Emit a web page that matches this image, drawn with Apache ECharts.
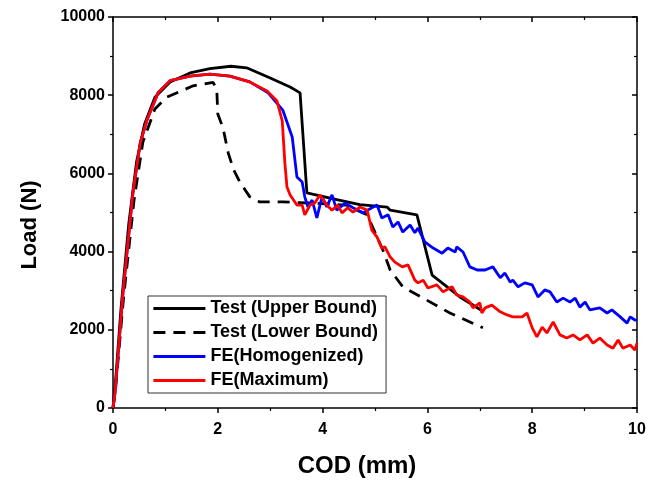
<!DOCTYPE html>
<html>
<head>
<meta charset="utf-8" />
<title>Load - COD</title>
<style>
  html, body { margin: 0; padding: 0; background: #fff; }
  #chart { width: 658px; height: 481px; }
</style>
</head>
<body>
<div id="chart"></div>
<script src="https://cdn.jsdelivr.net/npm/echarts@6/dist/echarts.min.js"></script>
<script>
// [COD (mm), Load (N)]
var testUpper = [[0,0],[0.05,700],[0.15,2500],[0.3,4700],[0.45,6300],[0.6,7250],[0.8,7950],[1.09,8340],[1.47,8570],[1.85,8680],[2.25,8740],[2.55,8700],[3.0,8440],[3.38,8210],[3.57,8060],[3.70,5500],[4.27,5330],[4.71,5200],[5.23,5140],[5.29,5060],[5.80,4940],[6.09,3400],[6.62,2840],[7.03,2500]];
var testLower = [[0,0],[0.05,500],[0.2,2800],[0.4,5300],[0.57,6800],[0.8,7650],[1.03,7950],[1.53,8240],[1.91,8330],[1.98,8150],[2.0,7520],[2.1,7160],[2.2,6520],[2.3,6100],[2.42,5780],[2.61,5400],[2.8,5270],[3.24,5270],[3.8,5240],[4.45,5190],[4.85,4940],[5.15,4040],[5.29,3530],[5.53,3100],[5.92,2810],[6.43,2430],[7.06,2050]];
var feHomogenized = [[0,0],[0.04,400],[0.19,2940],[0.38,5500],[0.52,6780],[0.65,7370],[0.86,8060],[1.09,8370],[1.47,8490],[1.85,8540],[2.23,8490],[2.61,8340],[2.96,8060],[3.24,7620],[3.42,6930],[3.51,5910],[3.61,5780],[3.66,5400],[3.72,5140],[3.80,5320],[3.89,4860],[3.99,5400],[4.08,5140],[4.18,5450],[4.27,5060],[4.43,5240],[4.58,5120],[4.77,4990],[4.94,5120],[5.04,5190],[5.13,4860],[5.25,4940],[5.34,4630],[5.44,4760],[5.53,4500],[5.67,4680],[5.76,4480],[5.82,4600],[5.95,4250],[6.11,4090],[6.28,3960],[6.39,4090],[6.53,3990],[6.56,4120],[6.68,3990],[6.81,3610],[6.95,3530],[7.10,3530],[7.25,3610],[7.39,3330],[7.48,3450],[7.58,3220],[7.63,3270],[7.73,3100],[7.86,3200],[8.0,3150],[8.11,2840],[8.24,3020],[8.34,2970],[8.47,2710],[8.59,2810],[8.72,2710],[8.82,2810],[8.91,2580],[9.01,2710],[9.10,2510],[9.29,2560],[9.43,2430],[9.52,2510],[9.68,2330],[9.81,2170],[9.87,2330],[9.96,2250],[10,2250]];
var feMaximum = [[0,0],[0.04,400],[0.19,2940],[0.38,5500],[0.52,6780],[0.65,7370],[0.86,8060],[1.09,8370],[1.47,8490],[1.85,8540],[2.23,8490],[2.61,8340],[2.94,8110],[3.13,7850],[3.23,7340],[3.28,6270],[3.32,5650],[3.38,5450],[3.51,5190],[3.61,5190],[3.66,4940],[3.76,5190],[3.85,5240],[3.95,5450],[4.08,5190],[4.18,5060],[4.29,5190],[4.37,4990],[4.48,5120],[4.58,5010],[4.71,5140],[4.85,5060],[4.94,4550],[5.04,4370],[5.13,4090],[5.19,4120],[5.29,3860],[5.38,3730],[5.52,3610],[5.63,3660],[5.76,3270],[5.82,3200],[5.92,3270],[6.01,3070],[6.18,3150],[6.30,2970],[6.47,3100],[6.56,2890],[6.68,2840],[6.81,2710],[6.87,2560],[7.0,2690],[7.04,2430],[7.10,2560],[7.23,2630],[7.39,2460],[7.52,2380],[7.63,2330],[7.81,2330],[7.90,2430],[8.0,2050],[8.09,1820],[8.19,2070],[8.28,1920],[8.40,2200],[8.53,1870],[8.66,1790],[8.78,1870],[8.91,1740],[9.05,1870],[9.16,1660],[9.29,1790],[9.43,1610],[9.54,1530],[9.64,1740],[9.73,1530],[9.87,1610],[9.96,1480],[10,1660]];
var seriesNames = ['Test (Upper Bound)', 'Test (Lower Bound)', 'FE(Homogenized)', 'FE(Maximum)'];

var _font = 'Arial, "Liberation Sans", sans-serif';
var chart = echarts.init(document.getElementById('chart'));

function mkAxis(pos, label, max, interval, margin) {
  return {
    type: 'value',
    position: pos,
    min: 0,
    max: max,
    interval: interval,
    axisLine: { show: true, onZero: false, lineStyle: { color: '#000', width: 1.5 } },
    axisTick: { show: true, inside: !label, length: 5, lineStyle: { color: '#000', width: 1.5 } },
    minorTick: { show: true, splitNumber: 2, length: 3, lineStyle: { color: '#000', width: 1.2 } },
    axisLabel: {
      show: label, color: '#000', fontSize: 16, fontWeight: 'bold', fontFamily: _font, margin: margin,
      formatter: function (v) { return String(v); }
    },
    splitLine: { show: false }
  };
}

function mkLine(name, data, color, dash, z) {
  return {
    name: name,
    type: 'line',
    data: data,
    showSymbol: false,
    symbol: 'none',
    z: z,
    lineStyle: { color: color, width: 2.8, type: dash ? [12, 8] : 'solid' },
    itemStyle: { color: color }
  };
}

var option = {
  animation: false,
  grid: { left: 113, top: 17, right: 21, bottom: 73 },
  xAxis: [mkAxis('bottom', true, 10, 2, 14), mkAxis('top', false, 10, 2, 8)],
  yAxis: [mkAxis('left', true, 10000, 2000, 8), mkAxis('right', false, 10000, 2000, 8)],
  legend: {
    orient: 'vertical',
    left: 148,
    top: 296,
    data: seriesNames,
    itemWidth: 52,
    itemHeight: 14,
    itemGap: 3,
    padding: [2, 8, 2, 4],
    borderColor: '#333',
    borderWidth: 1,
    backgroundColor: '#fff',
    itemStyle: { opacity: 0 },
    lineStyle: { width: 2.8 },
    textStyle: { color: '#000', fontSize: 18, fontWeight: 'bold', fontFamily: _font, lineHeight: 21 }
  },
  graphic: [
    { type: 'text', style: { text: 'COD (mm)', fill: '#000', font: 'bold 24px ' + _font, align: 'center', verticalAlign: 'middle' }, x: 357, y: 466 },
    { type: 'text', style: { text: 'Load (N)', fill: '#000', font: 'bold 22px ' + _font, align: 'center', verticalAlign: 'middle' }, x: 30, y: 225, rotation: Math.PI / 2 }
  ],
  series: [
    mkLine(seriesNames[0], testUpper, '#000000', false, 2),
    mkLine(seriesNames[1], testLower, '#000000', true, 3),
    mkLine(seriesNames[2], feHomogenized, '#0000ff', false, 4),
    mkLine(seriesNames[3], feMaximum, '#ff0000', false, 5)
  ]
};
chart.setOption(option);
</script>
</body>
</html>
